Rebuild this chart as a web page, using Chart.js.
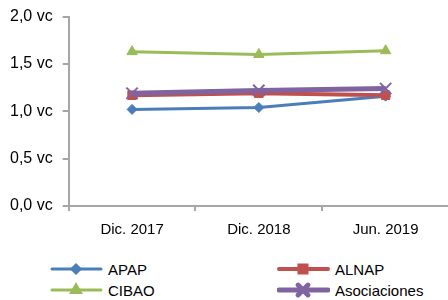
<!DOCTYPE html>
<html>
<head>
<meta charset="utf-8">
<script src="https://cdn.jsdelivr.net/npm/chart.js@4/dist/chart.umd.min.js"></script>
<style>
  html, body { margin: 0; padding: 0; background: #fff; overflow: hidden; }
  #wrap { position: relative; width: 448px; height: 300px; overflow: hidden; }
  #chartBox { position: absolute; left: 0; top: -3px; width: 459px; height: 252px; }
  #legend { position: absolute; left: 0; top: 259px; width: 448px; font: 15px "Liberation Sans", Arial, sans-serif; color: #000; }
  .item { position: absolute; height: 20px; display: flex; align-items: center; }
  .item canvas { margin-right: 5px; }
</style>
</head>
<body>
<div id="wrap">
  <div id="chartBox"><canvas id="ratioChart"></canvas></div>
  <div id="legend"></div>
</div>
<script>
const categories = ['Dic. 2017', 'Dic. 2018', 'Jun. 2019'];
const seriesNames = ['APAP', 'ALNAP', 'CIBAO', 'Asociaciones'];
const apap = [1.02, 1.04, 1.16];
const alnap = [1.17, 1.19, 1.17];
const cibao = [1.63, 1.60, 1.64];
const asociaciones = [1.19, 1.22, 1.24];
const yTicks = [0, 0.5, 1.0, 1.5, 2.0];

const colors = ['#4a7ebb', '#c0504d', '#9bbb59', '#8064a2'];
const markers = ['rectRot', 'rect', 'triangle', 'crossRot'];
const lineWidths = [3, 4, 3, 5];
const radii = [5, 6, 6, 8];
const values = [apap, alnap, cibao, asociaciones];
// draw order: purple over red over blue, green separate
const order = [3, 2, 4, 1];

const axisGray = '#a6a6a6';

const datasets = seriesNames.map((name, i) => ({
  label: name,
  data: values[i],
  borderColor: colors[i],
  backgroundColor: colors[i],
  borderWidth: lineWidths[i],
  pointStyle: markers[i],
  pointRadius: radii[i],
  pointBorderWidth: markers[i] === 'crossRot' ? 2 : 1,
  pointBorderColor: colors[i],
  pointHoverRadius: radii[i],
  tension: 0,
  order: order[i]
}));

new Chart(document.getElementById('ratioChart'), {
  type: 'line',
  data: { labels: categories, datasets },
  options: {
    responsive: true,
    maintainAspectRatio: false,
    animation: false,
    layout: { padding: { top: 0, right: 0, left: 0, bottom: 0 } },
    plugins: { legend: { display: false }, tooltip: { enabled: false } },
    scales: {
      x: {
        offset: true,
        grid: { offset: true, drawOnChartArea: false, drawTicks: true, tickLength: 5, color: axisGray, lineWidth: 2 },
        border: { color: axisGray, width: 2 },
        ticks: { color: '#000', font: { family: 'Liberation Sans', size: 15 }, padding: 10 }
      },
      y: {
        min: 0,
        max: 2,
        afterBuildTicks: axis => { axis.ticks = yTicks.map(v => ({ value: v })); },
        grid: { drawOnChartArea: false, drawTicks: true, tickLength: 6, color: axisGray, lineWidth: 2 },
        border: { color: axisGray, width: 2 },
        ticks: {
          color: '#000',
          font: { family: 'Liberation Sans', size: 16 },
          padding: 10,
          callback: v => v.toFixed(1).replace('.', ',') + ' vc'
        }
      }
    }
  }
});

// legend in two columns
const legendPos = [[50, 0], [277, 0], [50, 21], [277, 21]];
const legendEl = document.getElementById('legend');
seriesNames.forEach((name, i) => {
  const item = document.createElement('div');
  item.className = 'item';
  item.style.left = legendPos[i][0] + 'px';
  item.style.top = legendPos[i][1] + 'px';
  const c = document.createElement('canvas');
  c.width = 53; c.height = 20;
  const ctx = c.getContext('2d');
  ctx.strokeStyle = colors[i];
  ctx.fillStyle = colors[i];
  ctx.lineWidth = lineWidths[i];
  ctx.lineCap = 'round';
  ctx.beginPath(); ctx.moveTo(2, 10); ctx.lineTo(51, 10); ctx.stroke();
  Chart.helpers.drawPoint(ctx, {
    pointStyle: markers[i], radius: radii[i] - 1, borderWidth: markers[i] === 'crossRot' ? 2 : 1
  }, 26, 10);
  item.appendChild(c);
  const t = document.createElement('span');
  t.textContent = name;
  item.appendChild(t);
  legendEl.appendChild(item);
});
</script>
</body>
</html>
